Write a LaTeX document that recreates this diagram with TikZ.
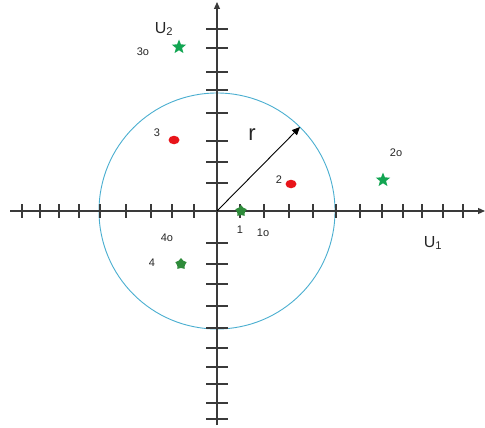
\documentclass[tikz,border=0pt]{standalone}
\usepackage{fontspec}
\setmainfont{Liberation Sans}
\usetikzlibrary{shapes.geometric,arrows.meta}
\definecolor{axisgray}{HTML}{3A3A3A}
\definecolor{circblue}{HTML}{4AAED0}
\definecolor{stargreen}{HTML}{12A552}
\definecolor{pentgreen}{HTML}{2E8B3A}
\definecolor{dotred}{HTML}{E8141A}
\begin{document}
\begin{tikzpicture}[x=1pt,y=-1pt,
  axisline/.style={draw=axisgray,line width=1.2pt},
  tickline/.style={draw=axisgray,line width=1.1pt},
  greenstar/.style={star,star points=5,star point ratio=2.3,minimum size=15pt,inner sep=0pt,fill=stargreen,draw=none},
  greenpent/.style={star,star points=5,star point ratio=1.5,minimum size=12pt,inner sep=0pt,fill=pentgreen,draw=none},
  reddot/.style={ellipse,minimum width=11pt,minimum height=8.5pt,inner sep=0pt,fill=dotred,draw=none},
  lbl/.style={inner sep=0pt,font=\fontsize{11}{13}\selectfont,text=black!85},
  axlbl/.style={inner sep=0pt,font=\fontsize{16}{18}\selectfont,text=black!85}]
\useasboundingbox (0,0) rectangle (485,428);
% coordinates
\coordinate (O) at (217,211);
\coordinate (xl) at (10,211);
\coordinate (xr) at (485,211);
\coordinate (yt) at (217,2);
\coordinate (yb) at (217,425);
\coordinate (rtip) at (300,127);
% circle
\draw[circblue,line width=0.9pt] (O) circle[radius=118];
% axes
\draw[axisline,-{Triangle[length=7pt,width=6pt]}] (xl) -- (xr);
\draw[axisline,-{Triangle[length=7pt,width=6pt]}] (yb) -- (yt);
% x ticks
\foreach \x in {22,40,59,79,100,126,151,172,194,240,264,289,313,336,360,382,403,422,443,463}
  \draw[tickline] (\x,204) -- (\x,218);
% y ticks
\foreach \y in {29,48,72,90,113,141,162,183,243,264,284,306,328,348,367,384,403,419}
  \draw[tickline] (206,\y) -- (228,\y);
% radius arrow
\draw[black,line width=0.9pt,-{Triangle[length=8pt,width=7pt]}] (O) -- (rtip);
\node[axlbl,font=\fontsize{22}{24}\selectfont] (r) at (252,135) {r};
% points
\node[greenstar] (s3) at (179,47) {};
\node[greenstar] (s2) at (383,180) {};
\node[greenpent] (p1) at (241,211) {};
\node[greenpent] (p4) at (181,264) {};
\node[reddot] (d3) at (174,140) {};
\node[reddot] (d2) at (291,184) {};
% labels
\node[lbl] (l3o) at (143,52) {3o};
\node[lbl] (l3) at (157,133) {3};
\node[lbl] (l2) at (279,180) {2};
\node[lbl] (l2o) at (396,153) {2o};
\node[lbl] (l1) at (240,230) {1};
\node[lbl] (l1o) at (263,233) {1o};
\node[lbl] (l4o) at (167,238) {4o};
\node[lbl] (l4) at (152,263) {4};
\node[axlbl] (u2) at (164,29) {U\textsubscript{2}};
\node[axlbl] (u1) at (433,243) {U\textsubscript{1}};
\end{tikzpicture}
\end{document}
